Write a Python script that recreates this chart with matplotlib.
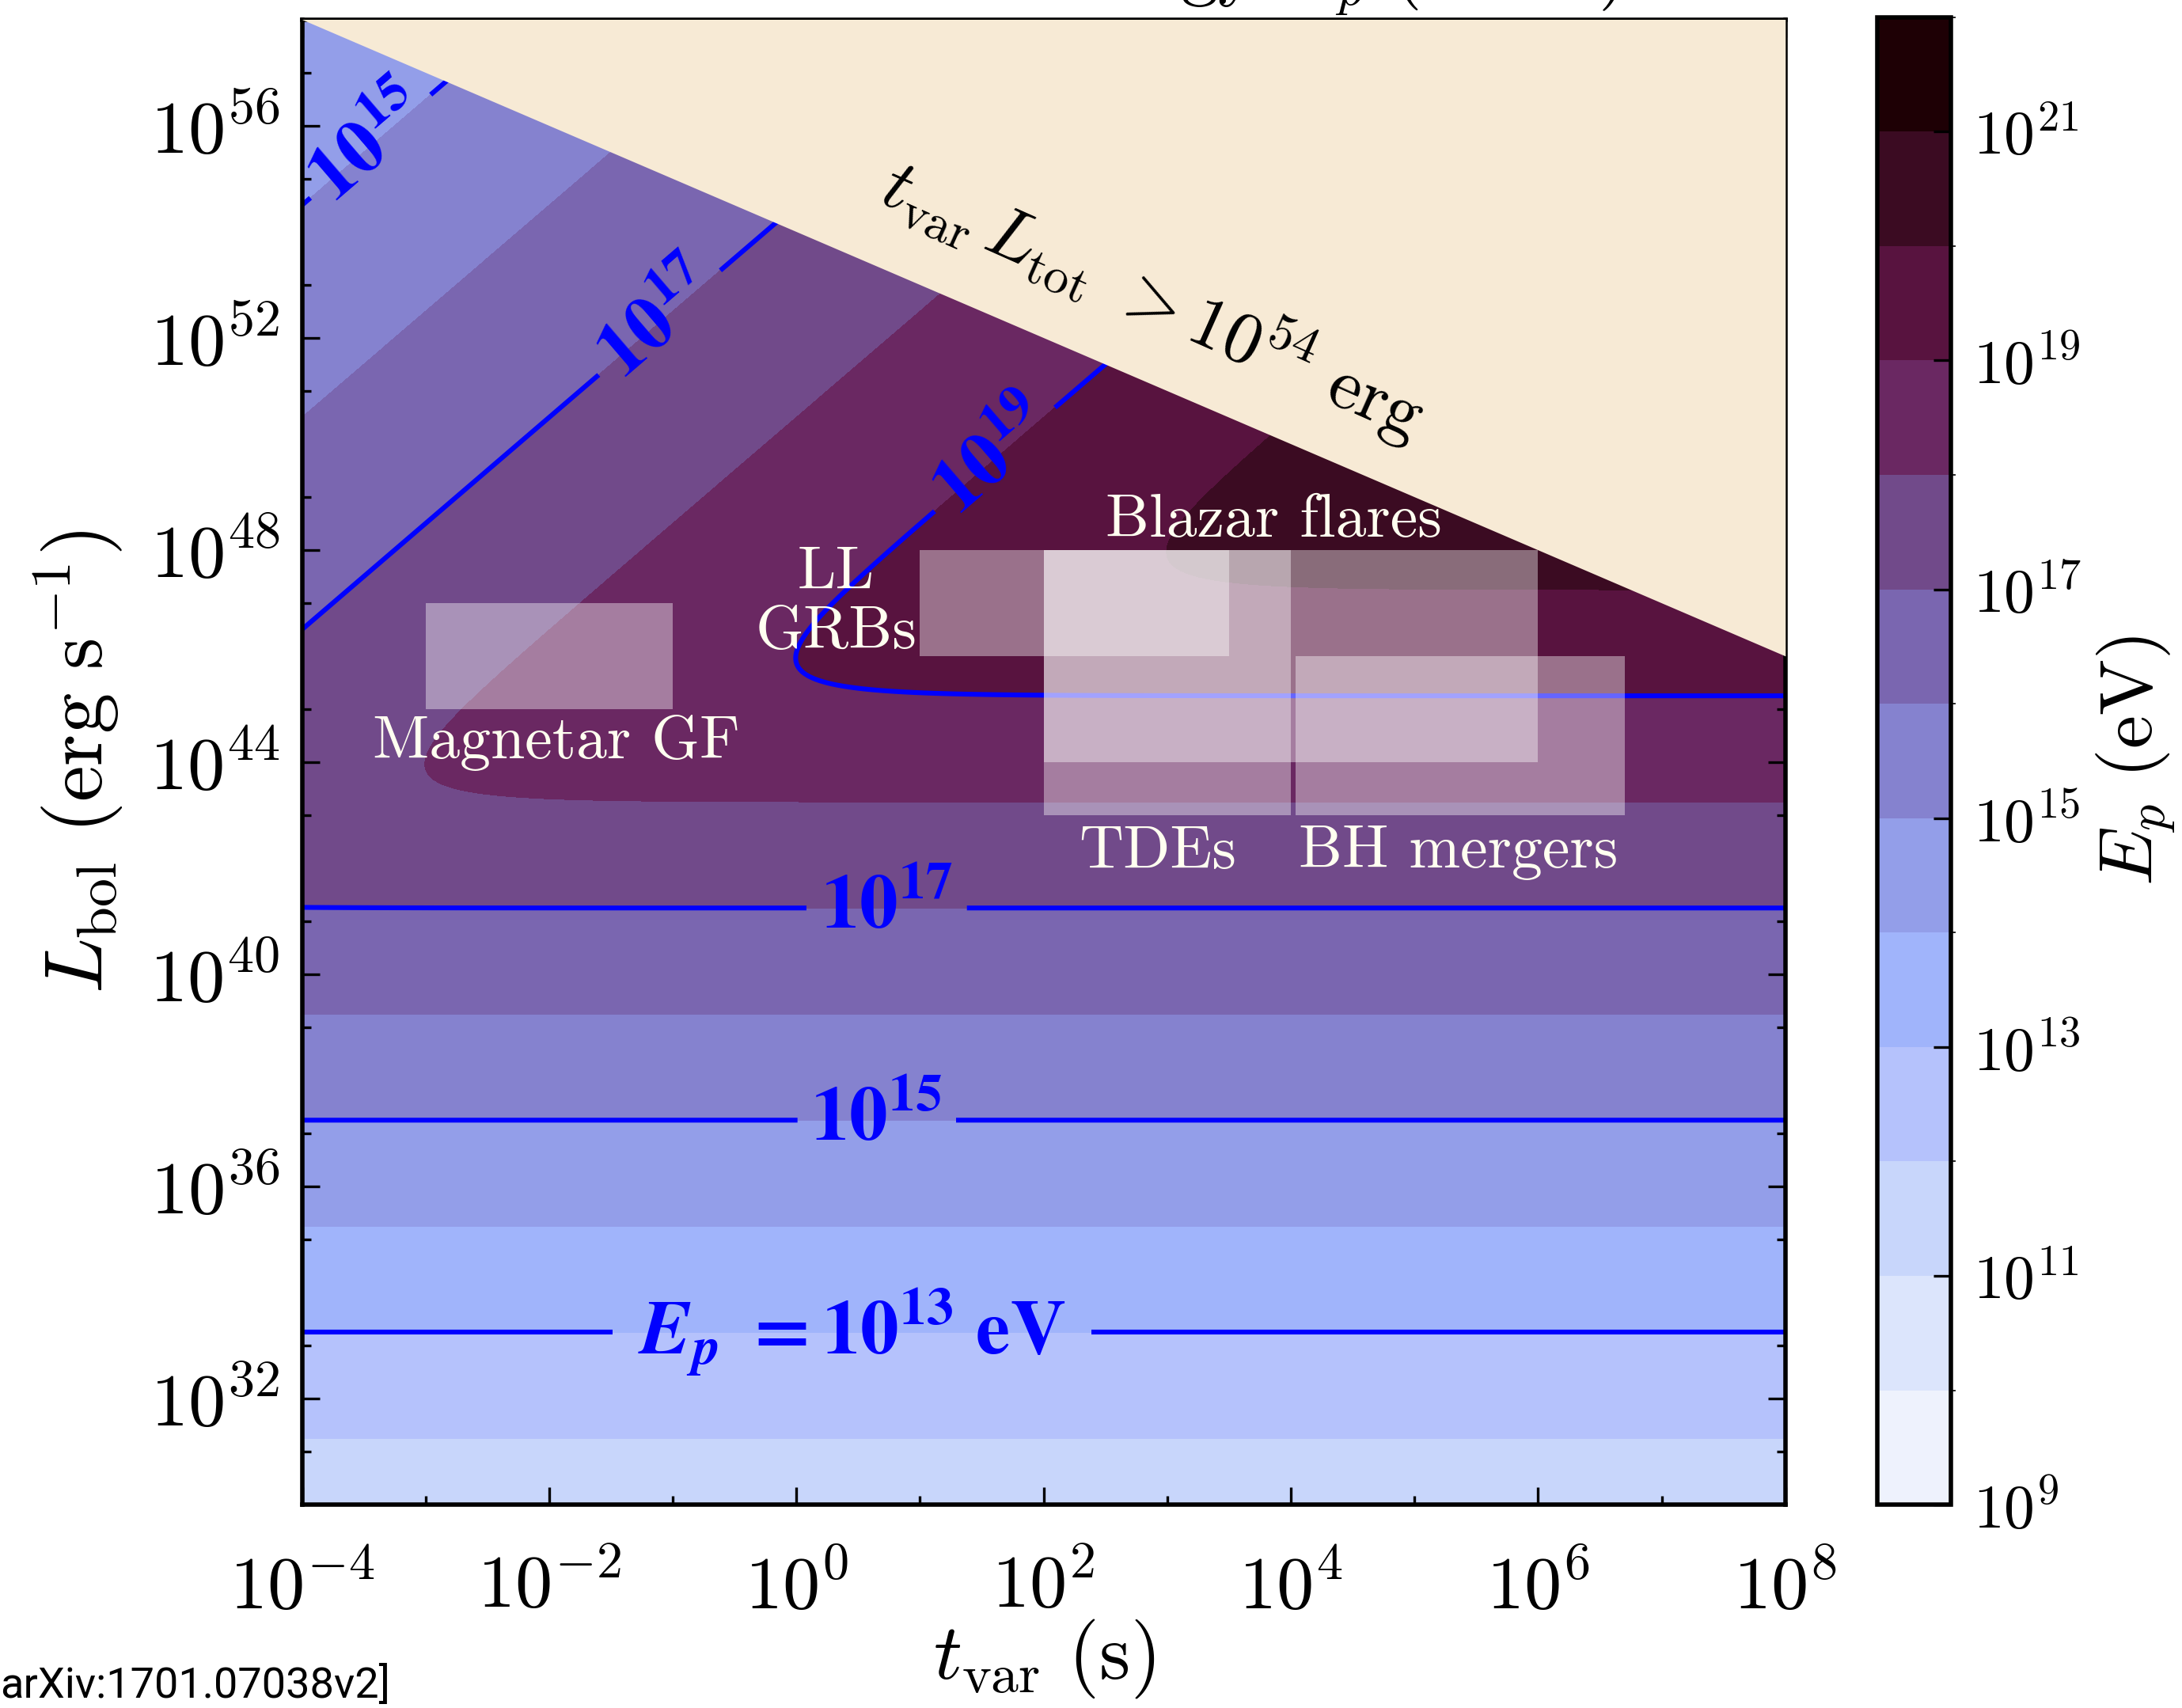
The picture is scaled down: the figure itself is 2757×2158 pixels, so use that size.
import numpy as np
import matplotlib
matplotlib.use('Agg')
import matplotlib.pyplot as plt
from matplotlib.colors import ListedColormap, BoundaryNorm
from matplotlib.patches import Rectangle
from matplotlib.ticker import FixedLocator, NullFormatter

plt.rcParams['font.family'] = 'serif'
plt.rcParams['font.serif'] = ['cmr10']
plt.rcParams['mathtext.fontset'] = 'cm'
plt.rcParams['axes.formatter.use_mathtext'] = True
plt.rcParams['axes.unicode_minus'] = False

# colour bands of log10(E_p / eV)
levels = list(range(9, 23))
band_colors = ['#eef2fd', '#dce5fc', '#c8d6fb', '#b5c2fc', '#a0b4fb', '#939ee9',
               '#8582cf', '#7a66b0', '#714a8a', '#6a2862', '#58133f', '#3b0b22',
               '#1e0005']
line_levels = [13, 15, 17, 19]

# the two limiting branches (log10 values)
conf_L0, conf_E0, conf_slope = 33.25, 13.0, 0.5        # horizontal branch, E ~ L^1/2
loss_t0, loss_L0, loss_E0 = -4.0, 54.5, 15.0           # diagonal branch
loss_slope_L, loss_slope_t = -0.25, 0.5                # E ~ L^-1/4 t^1/2
soft = 1.34                                            # roundness of the crossover
E_budget = 54.0                                        # t_var L_tot > 10^54 erg

# source classes (t_var in s, L_bol in erg/s)
sources = ['Magnetar GF', 'LL GRBs', 'Blazar flares', 'TDEs', 'BH mergers']
t_ranges = [(1e-3, 1e-1), (1e1, 10**3.5), (1e2, 1e6), (1e2, 1e4), (10**4.04, 10**6.7)]
L_ranges = [(1e45, 1e47), (1e46, 1e48), (1e44, 1e48), (1e43, 1e48), (1e43, 1e46)]
src_labels = ['Magnetar GF', 'LL\nGRBs', 'Blazar flares', 'TDEs', 'BH mergers']
src_label_pos = [(10**-1.94, 10**44.36), (10**0.32, 10**47.0), (10**3.86, 10**48.54),
                 (10**2.92, 10**42.29), (10**5.355, 10**42.29)]

# where the contour labels sit
clabel_pos = [(10**0.45, 10**33.25), (10**0.65, 10**37.25), (10**0.73, 10**41.2),
              (10**-3.46, 10**55.65), (10**-1.15, 10**52.4), (10**1.57, 10**49.8)]

beige = '#f7ead5'

tau = np.linspace(-4, 8, 1200)
lg = np.linspace(30, 58, 1400)
TAU, LG = np.meshgrid(tau, lg)
e1 = conf_E0 + conf_slope * (LG - conf_L0)
e2 = loss_E0 + loss_slope_L * (LG - loss_L0) + loss_slope_t * (TAU - loss_t0)
Ep = -np.log10(10**(-soft * (e1 - 15)) + 10**(-soft * (e2 - 15))) / soft + 15

fig = plt.figure(figsize=(13.785, 10.79), dpi=200)
ax = fig.add_axes([0.1384, 0.119, 0.6798, 0.8696])
cax = fig.add_axes([0.8603, 0.119, 0.0338, 0.871])
ax.set_xscale('log')
ax.set_yscale('log')
ax.set_xlim(1e-4, 1e8)
ax.set_ylim(1e30, 1e58)

cmap = ListedColormap(band_colors)
norm = BoundaryNorm(levels, cmap.N)
cf = ax.contourf(10**TAU, 10**LG, Ep, levels=levels, cmap=cmap, norm=norm, zorder=1)
cs = ax.contour(10**TAU, 10**LG, Ep, levels=line_levels, colors='#0000ff',
                linewidths=2.2, zorder=2)
ax.set_xlim(1e-4, 1e8)
ax.set_ylim(1e30, 1e58)
fmt = {13: r'$\mathbf{E_p\ =10^{13}\ eV}$', 15: r'$\mathbf{10^{15}}$',
       17: r'$\mathbf{10^{17}}$', 19: r'$\mathbf{10^{19}}$'}
clabels = ax.clabel(cs, fmt=fmt, manual=clabel_pos, inline=True, inline_spacing=16,
                    fontsize=35)
ep_text = [t for t in clabels if 'E_p' in t.get_text()]

t_line = np.array([1e-4, 1e8])
ax.fill_between(t_line, 10**E_budget / t_line, 1e60, color=beige, lw=0, zorder=3)

for (t0, t1), (L0, L1) in zip(t_ranges, L_ranges):
    ax.add_patch(Rectangle((t0, L0), t1 - t0, L1 - L0, fc='white', alpha=0.4,
                           ec='none', zorder=4))
for lab, (x, y) in zip(src_labels, src_label_pos):
    ax.text(x, y, lab, color='ivory', fontsize=28, ha='center', va='center',
            linespacing=1.1, zorder=6)

ax.text(10**2.89, 10**52.72, r'$t_{\rm var}\,L_{\rm tot}\ >10^{54}\ {\rm erg}$',
        rotation=-24, fontsize=33, ha='center', va='center', rotation_mode='anchor',
        zorder=6)

ax.xaxis.set_major_locator(FixedLocator([10.0**k for k in range(-4, 9, 2)]))
ax.xaxis.set_minor_locator(FixedLocator([10.0**k for k in range(-3, 8, 2)]))
ax.yaxis.set_major_locator(FixedLocator([10.0**k for k in range(32, 57, 4)]))
ax.yaxis.set_minor_locator(FixedLocator([10.0**k for k in range(31, 58, 2)]))
ax.xaxis.set_minor_formatter(NullFormatter())
ax.yaxis.set_minor_formatter(NullFormatter())
ax.tick_params(which='both', direction='in', top=True, right=True, labelsize=34)
ax.tick_params(which='major', length=8, width=1.2)
ax.tick_params(which='minor', length=4, width=1.2)
ax.tick_params(axis='x', which='major', pad=22)
ax.tick_params(axis='y', which='major', pad=10)
for s in ax.spines.values():
    s.set_linewidth(2)

ax.set_xlabel(r'$t_{\rm var}\ ({\rm s})$', fontsize=36, labelpad=-3)
ax.set_ylabel(r'$L_{\rm bol}\ ({\rm erg\ s^{-1}})$', fontsize=37, labelpad=11)

cb = fig.colorbar(cf, cax=cax)
cb.set_ticks(list(range(9, 22, 2)))
cb.set_ticklabels([r'$10^{%d}$' % k for k in range(9, 22, 2)])
cb.ax.tick_params(direction='in', length=8, width=1.2, labelsize=28, pad=10)
cb.outline.set_linewidth(2)
cb.set_label(r'$E_p\ ({\rm eV})$', fontsize=34, labelpad=6)

fig.text(0.743, 1 + 9 / 2158, r'Maximum energy $E_p$ (in eV)', ha='right',
         va='baseline', fontsize=34)
fig.text(0.0, 0.006, 'arXiv:1701.07038v2]', family='Roboto', fontsize=19.5,
         ha='left', va='baseline')

# bold digits for the contour labels: try STIX bold first, plain cm as fallback
attempts = [('stix', r'$\mathbfit{E_p}\ \mathbf{=10^{13}\ eV}$'),
            ('stix', r'$\mathbf{E_p\ =10^{13}\ eV}$'),
            ('cm', r'$\mathbf{E_p\ =10^{13}\ eV}$')]
for fam, eps in attempts:
    for t in clabels:
        t.set_math_fontfamily(fam)
    for t in ep_text:
        t.set_text(eps)
    try:
        fig.savefig('out.png', dpi=200)
        break
    except Exception:
        continue
